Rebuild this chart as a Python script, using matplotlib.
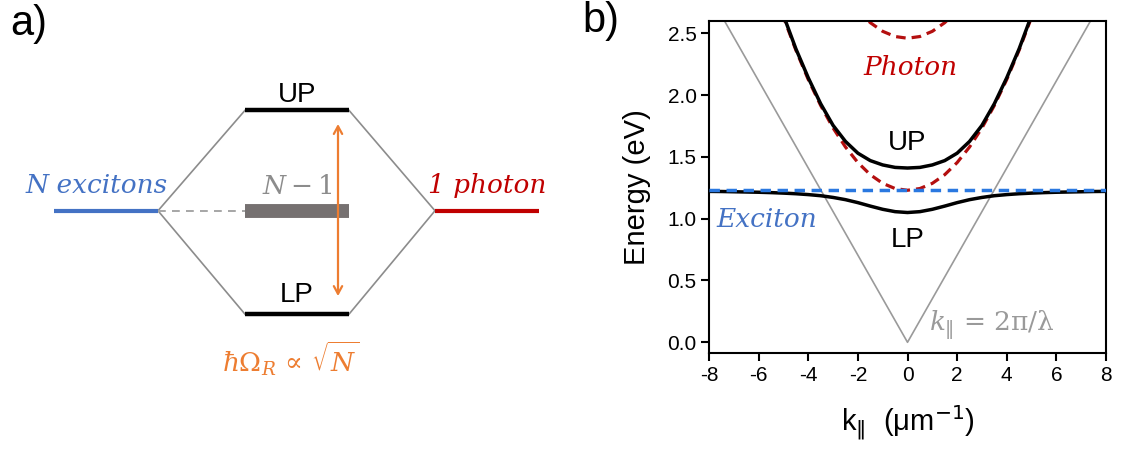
import matplotlib
matplotlib.use('Agg')
import matplotlib.pyplot as plt

plt.rcParams['font.family'] = ['Liberation Sans', 'DejaVu Sans']
plt.rcParams['mathtext.fontset'] = 'dejavuserif'
plt.rcParams['axes.unicode_minus'] = False

# ---- panel a) schematic levels (schematic units) ----
exc_x = [0.54, 1.58]
pol_x = [2.45, 3.49]
ph_x = [4.35, 5.39]
lvl_up = 1.0
lvl_mid = 0.0
lvl_lp = -1.03
rabi_x = 3.38
rabi_y = [-0.85, 0.864]

# ---- panel b) dispersion ----
k_pol = [-5.5, -5.0, -4.5, -4.0, -3.5, -3.0, -2.5, -2.0, -1.5, -1.0, -0.5, 0.0,
         0.5, 1.0, 1.5, 2.0, 2.5, 3.0, 3.5, 4.0, 4.5, 5.0, 5.5]
up_E = [2.94, 2.645, 2.375, 2.14, 1.93, 1.755, 1.625, 1.53, 1.47, 1.435, 1.415, 1.41,
        1.415, 1.435, 1.47, 1.53, 1.625, 1.755, 1.93, 2.14, 2.375, 2.645, 2.94]
photon_E = [2.924, 2.63, 2.364, 2.126, 1.916, 1.734, 1.58, 1.454, 1.356, 1.286, 1.244, 1.23,
            1.244, 1.286, 1.356, 1.454, 1.58, 1.734, 1.916, 2.126, 2.364, 2.63, 2.924]

k_lp = [-8.0, -7.5, -7.0, -6.5, -6.0, -5.5, -5.0, -4.5, -4.0, -3.5, -3.0, -2.5, -2.0,
        -1.5, -1.0, -0.5, 0.0, 0.5, 1.0, 1.5, 2.0, 2.5, 3.0, 3.5, 4.0, 4.5, 5.0,
        5.5, 6.0, 6.5, 7.0, 7.5, 8.0]
lp_E = [1.221, 1.220, 1.218, 1.216, 1.214, 1.211, 1.207, 1.202, 1.195, 1.186, 1.172,
        1.154, 1.130, 1.102, 1.076, 1.057, 1.050, 1.057, 1.076, 1.102, 1.130, 1.154,
        1.172, 1.186, 1.195, 1.202, 1.207, 1.211, 1.214, 1.216, 1.218, 1.220, 1.221]

k_ph2 = [-2.0, -1.5, -1.0, -0.5, 0.0, 0.5, 1.0, 1.5, 2.0]
photon2_E = [2.684, 2.586, 2.516, 2.474, 2.46, 2.474, 2.516, 2.586, 2.684]

k_exc = [-8, 8]
exc_E = [1.232, 1.232]

k_light = [-8, 0, 8]
light_E = [2.82, 0.0, 2.82]

BLUE = '#4472C4'
RED = '#C00000'
ORANGE = '#ED7D31'
GRAY = '#8C8C8C'

fig = plt.figure(figsize=(11.21, 4.5), dpi=100)
serif = dict(family='DejaVu Serif', style='italic')

# ---------------- panel a ----------------
axl = fig.add_axes([0, 0, 0.5, 1])
axl.set_xlim(0, 5.605)
axl.set_ylim(-2.383, 2.099)
axl.axis('off')

# connectors of the hexagon
axl.plot([exc_x[1], pol_x[0]], [lvl_mid, lvl_up], color=GRAY, lw=1.2)
axl.plot([exc_x[1], pol_x[0]], [lvl_mid, lvl_lp], color=GRAY, lw=1.2)
axl.plot([pol_x[1], ph_x[0]], [lvl_up, lvl_mid], color=GRAY, lw=1.2)
axl.plot([pol_x[1], ph_x[0]], [lvl_lp, lvl_mid], color=GRAY, lw=1.2)
axl.plot([exc_x[1], pol_x[0]], [lvl_mid, lvl_mid], color='#A6A6A6', lw=1.4,
         dashes=(4, 3.2))

axl.plot(exc_x, [lvl_mid] * 2, color=BLUE, lw=3, solid_capstyle='butt')
axl.plot(ph_x, [lvl_mid] * 2, color=RED, lw=3, solid_capstyle='butt')
axl.plot(pol_x, [lvl_up] * 2, color='black', lw=3.2, solid_capstyle='butt')
axl.plot(pol_x, [lvl_lp] * 2, color='black', lw=3.2, solid_capstyle='butt')
axl.plot(pol_x, [lvl_mid] * 2, color='#767171', lw=10, solid_capstyle='butt')

axl.annotate('', xy=(rabi_x, rabi_y[1]), xytext=(rabi_x, rabi_y[0]),
             arrowprops=dict(arrowstyle='<->,head_length=0.55,head_width=0.3',
                             color=ORANGE, lw=1.6, shrinkA=0, shrinkB=0))

axl.text(2.97, 1.083, 'UP', ha='center', va='baseline', fontsize=20)
axl.text(2.97, -0.909, 'LP', ha='center', va='baseline', fontsize=20)
axl.text(0.97, 0.176, 'N excitons', ha='center', va='baseline', fontsize=19,
         color=BLUE, **serif)
axl.text(2.97, 0.166, r'$N-1$', ha='center', va='baseline', fontsize=19,
         color=GRAY)
axl.text(4.875, 0.176, '1 photon', ha='center', va='baseline', fontsize=19,
         color=RED, **serif)
axl.text(2.905, -1.606, r'$\hbar\Omega_R\,\propto\,\sqrt{N}$', ha='center',
         va='baseline', fontsize=19, color=ORANGE)

fig.text(10 / 1121, 1 - 4 / 450, 'a)', ha='left', va='top', fontsize=30)
fig.text(582 / 1121, 1 - 1 / 450, 'b)', ha='left', va='top', fontsize=30)

# ---------------- panel b ----------------
ax = fig.add_axes([0.6325, 0.2149, 0.3541, 0.7391])
ax.plot(k_light, light_E, color='#9A9A9A', lw=1.2, zorder=1)
ax.plot(k_pol, photon_E, color='#B40F0F', lw=2.3, dashes=(3, 1.9), zorder=2)
ax.plot(k_ph2, photon2_E, color='#B40F0F', lw=2.3, dashes=(3, 1.9), zorder=2)
ax.plot(k_pol, up_E, color='black', lw=2.5, zorder=3)
ax.plot(k_lp, lp_E, color='black', lw=2.5, zorder=3)
ax.plot(k_exc, exc_E, color='#2A78E0', lw=2.5, dashes=(3, 1.9), zorder=4)

ax.set_xlim(-8, 8)
ax.set_ylim(-0.089, 2.602)
ax.set_xticks([-8, -6, -4, -2, 0, 2, 4, 6, 8])
ax.set_yticks([0.0, 0.5, 1.0, 1.5, 2.0, 2.5])
ax.set_yticklabels(['0.0', '0.5', '1.0', '1.5', '2.0', '2.5'])
ax.tick_params(direction='out', length=5.5, width=1.5, labelsize=15)
for sp in ax.spines.values():
    sp.set_linewidth(1.5)

ax.set_ylabel('Energy (eV)', fontsize=21, labelpad=12)
ax.set_xlabel(r'k$_{\Vert}$  (μm$^{-1}$)', fontsize=21, labelpad=13,
              math_fontfamily='dejavusans')

ax.text(0.1, 2.163, 'Photon', ha='center', va='baseline', fontsize=19,
        color=RED, **serif)
ax.text(0.0, 1.556, 'UP', ha='center', va='baseline', fontsize=20)
ax.text(0.0, 0.771, 'LP', ha='center', va='baseline', fontsize=20)
ax.text(-7.72, 0.933, 'Exciton', ha='left', va='baseline', fontsize=19,
        color=BLUE, **serif)
ax.text(0.87, 0.09, r'$k_{\Vert}$ = 2π/λ', ha='left', va='baseline',
        fontsize=19, color='#9A9A9A', family='DejaVu Serif')

fig.savefig('out.png', dpi=100)
